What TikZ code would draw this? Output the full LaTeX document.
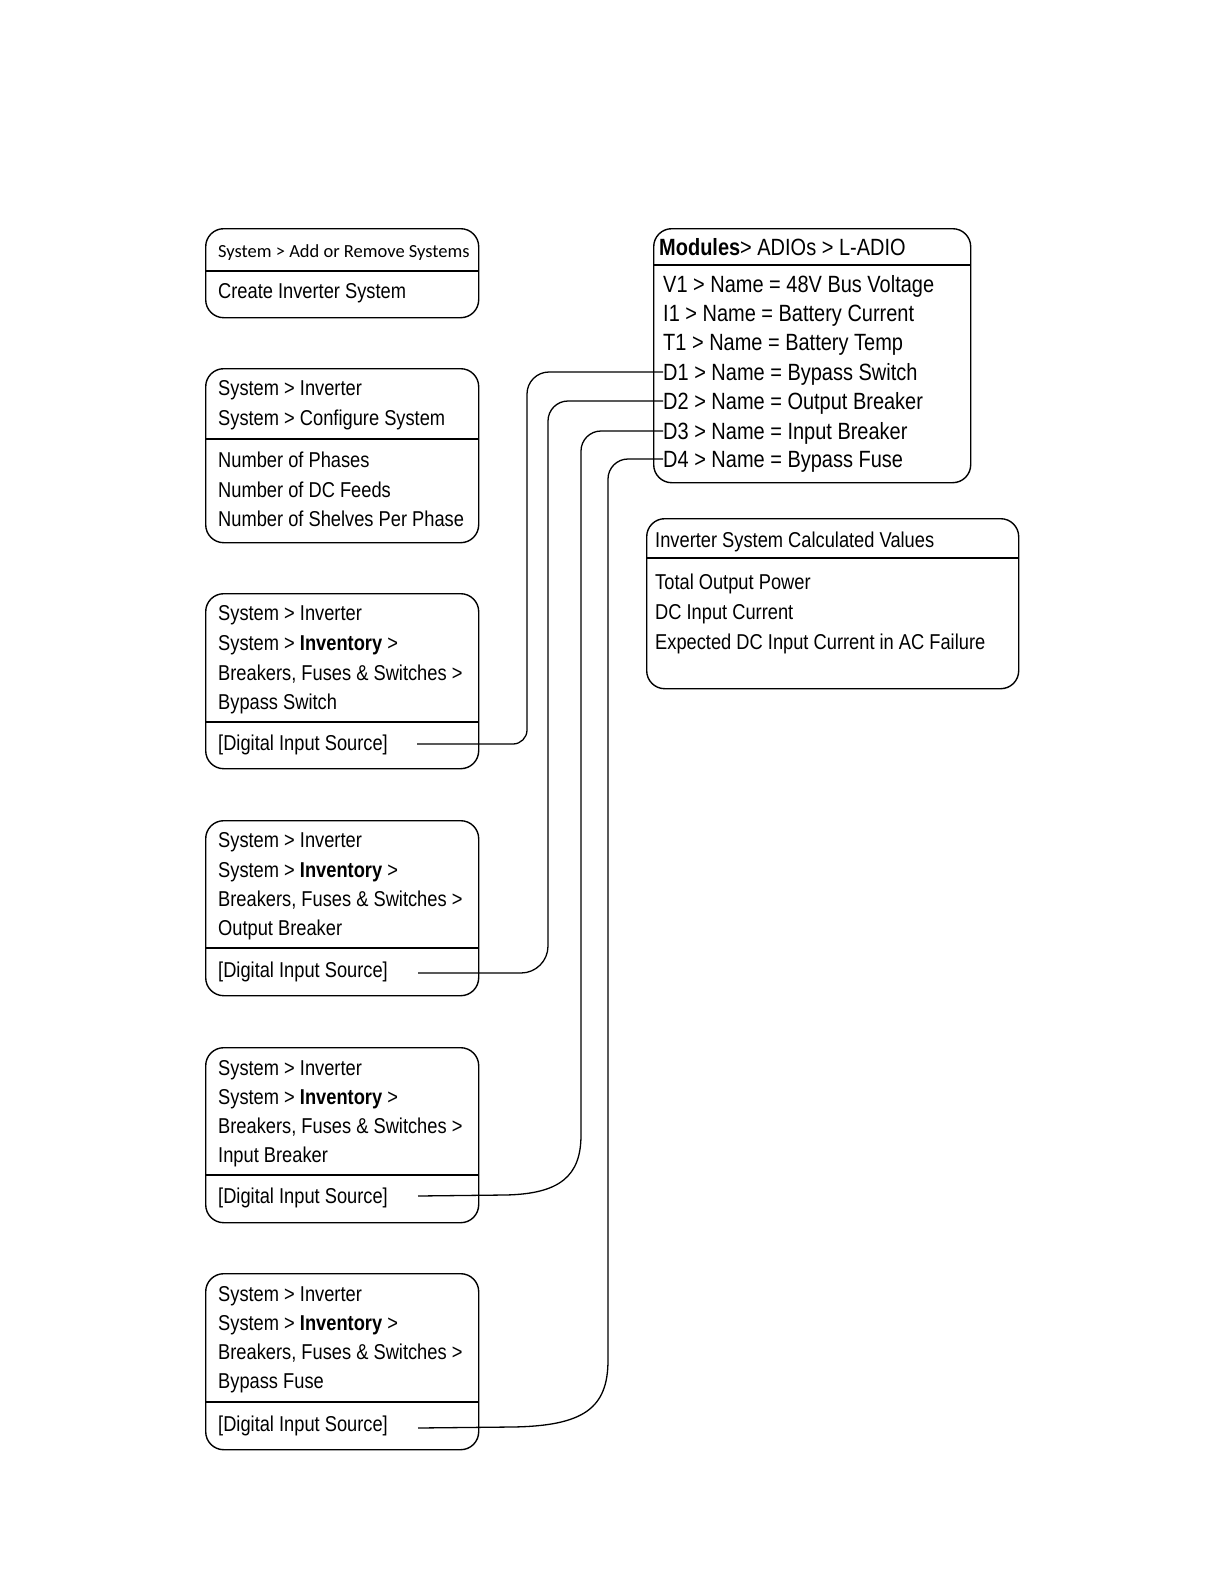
\documentclass[tikz,border=0pt]{standalone}
\usepackage{fontspec}
\setmainfont[FakeStretch=0.85]{Liberation Sans}
\newfontfamily\carlito{Carlito}
\begin{document}
\begin{tikzpicture}[x=1pt,y=-1pt,
  box/.style={draw, line width=1.4pt, rounded corners=18pt, anchor=north west, inner sep=0pt},
  divline/.style={line width=1.4pt},
  txt/.style={anchor=west, inner sep=0pt, text height=15.4pt, text depth=0pt, font=\fontsize{21.5}{26}\selectfont},
  mtxt/.style={anchor=west, inner sep=0pt, text height=16.8pt, text depth=0pt, font=\fontsize{23.5}{28}\selectfont},
  ctxt/.style={anchor=west, inner sep=0pt, text height=11.9pt, text depth=0pt, font=\carlito\fontsize{18.5}{22}\selectfont},
  wire/.style={line width=1.3pt}]
\useasboundingbox (0,0) rectangle (1224,1584);
\fill[white] (0,0) rectangle (1224,1584);

% ---- Box 1
\node[box, minimum width=273pt, minimum height=89pt] (b1) at (205,228) {};
\draw[divline] (205,271) -- (478,271);
\node[ctxt] (b1h) at (218,252) {System > Add or Remove Systems};
\node[txt] (b1a) at (218,291) {Create Inverter System};

% ---- Box 2
\node[box, minimum width=273pt, minimum height=174pt] (b2) at (205,368) {};
\draw[divline] (205,439) -- (478,439);
\node[txt] (b2a) at (218,388) {System > Inverter};
\node[txt] (b2b) at (218,418) {System > Configure System};
\node[txt] (b2c) at (218,460) {Number of Phases};
\node[txt] (b2d) at (218,490) {Number of DC Feeds};
\node[txt] (b2e) at (218,519) {Number of Shelves Per Phase};

% ---- Box 3
\node[box, minimum width=273pt, minimum height=175pt] (b3) at (205,593) {};
\draw[divline] (205,722) -- (478,722);
\node[txt] (b3a) at (218,613) {System > Inverter};
\node[txt] (b3b) at (218,643) {System > \textbf{Inventory} >};
\node[txt] (b3c) at (218,673) {Breakers, Fuses \& Switches >};
\node[txt] (b3d) at (218,702) {Bypass Switch};
\node[txt] (dis1) at (218,743) {[Digital Input Source]};

% ---- Box 4
\node[box, minimum width=273pt, minimum height=175pt] (b4) at (205,820) {};
\draw[divline] (205,948) -- (478,948);
\node[txt] (b4a) at (218,840) {System > Inverter};
\node[txt] (b4b) at (218,870) {System > \textbf{Inventory} >};
\node[txt] (b4c) at (218,899) {Breakers, Fuses \& Switches >};
\node[txt] (b4d) at (218,928) {Output Breaker};
\node[txt] (dis2) at (218,970) {[Digital Input Source]};

% ---- Box 5
\node[box, minimum width=273pt, minimum height=175pt] (b5) at (205,1047) {};
\draw[divline] (205,1175) -- (478,1175);
\node[txt] (b5a) at (218,1068) {System > Inverter};
\node[txt] (b5b) at (218,1097) {System > \textbf{Inventory} >};
\node[txt] (b5c) at (218,1126) {Breakers, Fuses \& Switches >};
\node[txt] (b5d) at (218,1155) {Input Breaker};
\node[txt] (dis3) at (218,1196) {[Digital Input Source]};

% ---- Box 6
\node[box, minimum width=273pt, minimum height=176pt] (b6) at (205,1273) {};
\draw[divline] (205,1402) -- (478,1402);
\node[txt] (b6a) at (218,1294) {System > Inverter};
\node[txt] (b6b) at (218,1323) {System > \textbf{Inventory} >};
\node[txt] (b6c) at (218,1352) {Breakers, Fuses \& Switches >};
\node[txt] (b6d) at (218,1381) {Bypass Fuse};
\node[txt] (dis4) at (218,1424) {[Digital Input Source]};

% ---- Modules box
\node[box, minimum width=317pt, minimum height=254pt] (mod) at (653,228) {};
\draw[divline] (653,265) -- (970,265);
\node[mtxt] (modh) at (659,247) {\textbf{Modules}> ADIOs > L-ADIO};
\node[mtxt] (v1) at (663,284) {V1 > Name = 48V Bus Voltage};
\node[mtxt] (i1) at (663,313) {I1 > Name = Battery Current};
\node[mtxt] (t1) at (663,342) {T1 > Name = Battery Temp};
\node[mtxt] (d1) at (663,372) {D1 > Name = Bypass Switch};
\node[mtxt] (d2) at (663,401) {D2 > Name = Output Breaker};
\node[mtxt] (d3) at (663,431) {D3 > Name = Input Breaker};
\node[mtxt] (d4) at (663,459) {D4 > Name = Bypass Fuse};

% ---- Calculated values box
\node[box, minimum width=372pt, minimum height=170pt] (calc) at (646,518) {};
\draw[divline] (646,558) -- (1018,558);
\node[txt] (calch) at (655,540) {Inverter System Calculated Values};
\node[txt] (c1) at (655,582) {Total Output Power};
\node[txt] (c2) at (655,612) {DC Input Current};
\node[txt] (c3) at (655,642) {Expected DC Input Current in AC Failure};

% ---- connector free ends
\coordinate (s1) at (417,744);
\coordinate (s2) at (418,973);
\coordinate (s3) at (418,1196);
\coordinate (s4) at (418,1428);

% ---- connectors
\draw[wire, rounded corners=22pt] (d1.west) -| (527,600) [rounded corners=14pt] |- (s1);
\draw[wire, rounded corners=20pt] (d2.west) -| (548,700) [rounded corners=27pt] |- (s2);
\draw[wire, rounded corners=20pt] (d3.west) -| (581,1115) [sharp corners]
   .. controls (581,1176) and (560,1194) .. (505,1195) -- (s3);
\draw[wire, rounded corners=20pt] (d4.west) -| (608,1340) [sharp corners]
   .. controls (608,1408) and (584,1426) .. (512,1427) -- (s4);
\end{tikzpicture}
\end{document}
